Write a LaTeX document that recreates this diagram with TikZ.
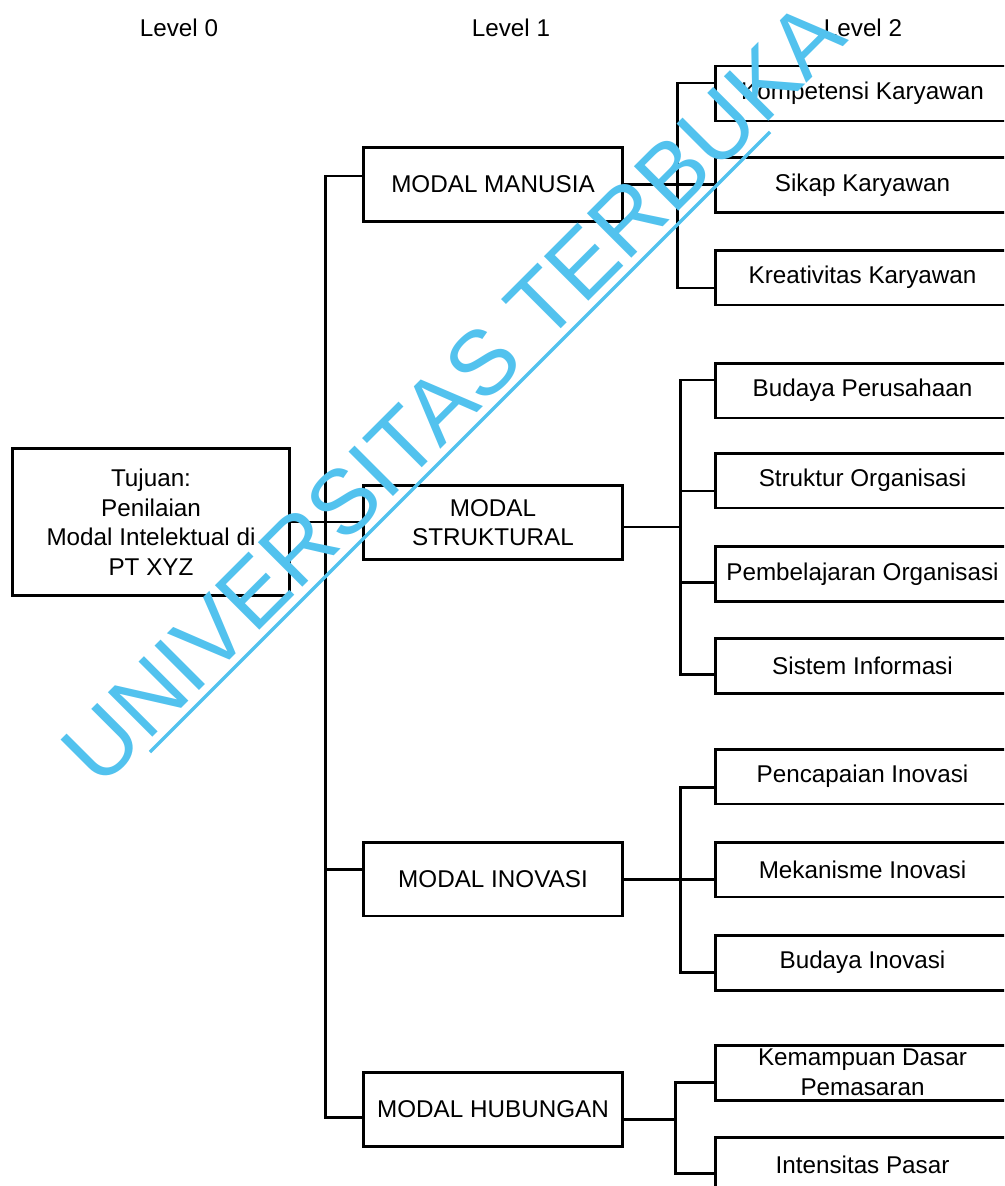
\documentclass[tikz,border=0pt]{standalone}
\usepackage{fontspec}
\setmainfont{Liberation Sans}
\usetikzlibrary{calc}
\definecolor{wmblue}{RGB}{82,194,238}

\begin{document}
\begin{tikzpicture}[x=0.02cm,y=-0.02cm,
  every node/.style={font=\fontsize{13.8}{16.8}\selectfont},
  bx/.style={draw,line width=1.7pt,inner sep=0pt,align=center},
  lv1/.style={bx,minimum width=5.2cm,minimum height=1.48cm},
  lv2/.style={bx,minimum width=5.9cm,minimum height=1.1cm},
  cn/.style={line width=1.7pt},
  wm/.style={text=wmblue,font=\fontsize{52}{52}\selectfont,rotate=45,inner sep=0pt,anchor=base},
  wmln/.style={wmblue,line width=2pt}]
\useasboundingbox (0,0) rectangle (1004,1186);
\clip (0,0) rectangle (1004,1186);
% x positions: level 1 and level 2 box centres
\def\xa{493}\def\xb{862.5}
%------------- level labels
\node (lv0) at (179,28) {Level 0};
\node (lv1) at (511,28) {Level 1};
\node (lv2) at (863,28) {Level 2};
%------------- level 0
\node[bx,minimum width=5.56cm,minimum height=2.96cm] (goal) at (151,522)
  {Tujuan:\\Penilaian\\Modal Intelektual di\\PT XYZ};
%------------- level 1
\node[lv1] (man) at (\xa,184.5) {MODAL MANUSIA};
\node[lv1] (str) at (\xa,522.5) {MODAL\\STRUKTURAL};
\node[lv1] (ino) at (\xa,879) {MODAL INOVASI};
\node[lv1] (hub) at (\xa,1109.5) {MODAL HUBUNGAN};
%------------- level 2
\node[lv2] (m1) at (\xb,93.5) {Kompetensi Karyawan};
\node[lv2] (m2) at (\xb,185) {Sikap Karyawan};
\node[lv2] (m3) at (\xb,277.5) {Kreativitas Karyawan};
\node[lv2] (s1) at (\xb,390.5) {Budaya Perusahaan};
\node[lv2] (s2) at (\xb,480.5) {Struktur Organisasi};
\node[lv2] (s3) at (\xb,574) {Pembelajaran Organisasi};
\node[lv2] (s4) at (\xb,666) {Sistem Informasi};
\node[lv2] (i1) at (\xb,776.5) {Pencapaian Inovasi};
\node[lv2] (i2) at (\xb,869.5) {Mekanisme Inovasi};
\node[lv2] (i3) at (\xb,962.5) {Budaya Inovasi};
\node[lv2] (h1) at (\xb,1072.5) {Kemampuan Dasar\\Pemasaran};
\node[lv2] (h2) at (\xb,1164.5) {Intensitas Pasar};
%------------- level 0 -> level 1
\draw[cn] (goal.east) -- (goal.east -| str.west);
\draw[cn] ($(man.west)+(0,-8.5)$) -| ($(hub.west)+(-36,7.5)$) -- ($(hub.west)+(0,7.5)$);
\draw[cn] ($(ino.west)+(0,-10)$) -- ++(-36,0);
%------------- manusia
\draw[cn] (man.east) -- (man.east -| m2.west);
\draw[cn] ($(m1.west)+(0,-10.5)$) -| ($(m3.west)+(-36,10.5)$) -- ($(m3.west)+(0,10.5)$);
%------------- struktural
\draw[cn] ($(str.east)+(0,4.5)$) -- ($(str.east -| s1.west)+(-33,4.5)$);
\draw[cn] ($(s1.west)+(0,-10.5)$) -| ($(s4.west)+(-33,8)$) -- ($(s4.west)+(0,8)$);
\draw[cn] ($(s2.west)+(0,10.5)$) -- ++(-33,0);
\draw[cn] ($(s3.west)+(0,8)$) -- ++(-33,0);
%------------- inovasi
\draw[cn] (ino.east) -- (ino.east -| i2.west);
\draw[cn] ($(i1.west)+(0,10.5)$) -| ($(i3.west)+(-33,9.5)$) -- ($(i3.west)+(0,9.5)$);
%------------- hubungan
\draw[cn] ($(hub.east)+(0,9.5)$) -- ($(hub.east -| h1.west)+(-38,9.5)$);
\draw[cn] ($(h1.west)+(0,9.5)$) -| ($(h2.west)+(-38,8.5)$) -- ($(h2.west)+(0,8.5)$);
%------------- watermark
\node[wm] (wmk) at (475,415) {UNIVERSITAS TERBUKA};
\draw[wmln] (150,752) -- (770,132);
\end{tikzpicture}
\end{document}
